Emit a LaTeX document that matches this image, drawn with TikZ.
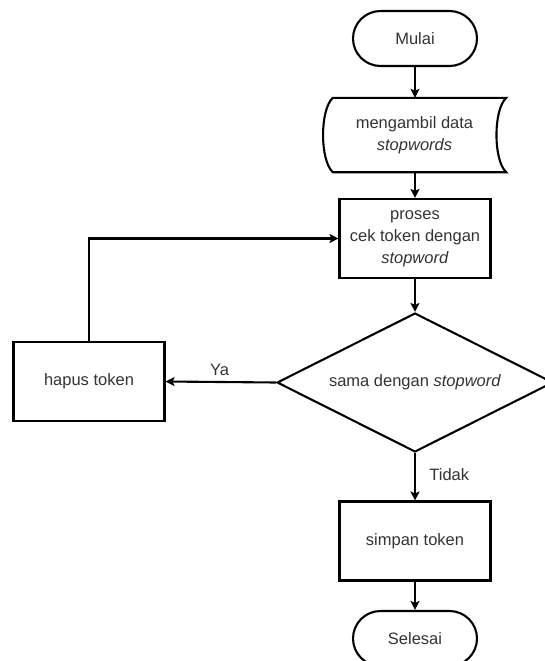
\documentclass[tikz,border=0pt]{standalone}
\usepackage{fontspec}
\setmainfont{Liberation Sans}
\usetikzlibrary{shapes.geometric,arrows.meta,calc}
\definecolor{txt}{HTML}{333333}
\begin{document}
\begin{tikzpicture}[x=1pt,y=-1pt,
  every node/.style={font=\fontsize{16.5}{22}\selectfont, text=txt, align=center},
  line/.style={draw=black, line width=2.1pt},
  flow/.style={line, -{Stealth[length=9pt,width=9pt,inset=2pt]}},
  terminal/.style={line, rectangle, rounded corners=27.5pt, minimum width=124pt, minimum height=55pt, inner sep=0pt},
  procbox/.style={line, rectangle, minimum width=151pt, minimum height=79pt, inner sep=0pt},
  decision/.style={line, diamond, aspect=2, minimum width=276pt, minimum height=139pt, inner sep=0pt},
  storebox/.style={rectangle, minimum width=183pt, minimum height=74pt, inner sep=0pt},
  lbl/.style={font=\fontsize{16.5}{20}\selectfont, text=txt}
]
\useasboundingbox (0,0) rectangle (545,661);

% main column
\node[terminal] (start) at (415,38.5) {Mulai};
\node[storebox] (data) at (414.5,135) {mengambil data\\\textit{stopwords}};
\node[procbox] (proc) at (415,238.5) {proses\\cek token dengan\\\textit{stopword}};
\node[decision] (dec) at (415,382.5) {sama dengan \textit{stopword}};
\node[procbox] (hapus) at (89,381.5) {hapus token};
\node[procbox] (simpan) at (415,541) {simpan token};
\node[terminal] (stop) at (415,638.5) {Selesai};

% stored-data outline: convex left side, concave right side
\draw[line]
  ($(data.north west)+(10,0)$) -- (data.north east)
  .. controls ($(data.north east)+(-13,12)$) and ($(data.south east)+(-13,-12)$) .. (data.south east)
  -- ($(data.south west)+(10,0)$)
  .. controls ($(data.south west)+(-3,-12)$) and ($(data.north west)+(-3,12)$) .. ($(data.north west)+(10,0)$) -- cycle;

% connectors
\draw[flow] (start.south) -- (start.south |- data.north);
\draw[flow] (data.south -| proc.north) -- (proc.north);
\draw[flow] (proc.south) -- (dec.north);
\draw[flow] (dec.west) -- node[lbl, above=2pt, pos=0.51] (ya) {Ya} (hapus.east);
\draw[flow] (hapus.north) |- (proc.west);
\draw[flow] (dec.south) -- node[lbl, right=10pt, pos=0.45] (tidak) {Tidak} (simpan.north);
\draw[flow] (simpan.south) -- (stop.north);
\end{tikzpicture}
\end{document}
